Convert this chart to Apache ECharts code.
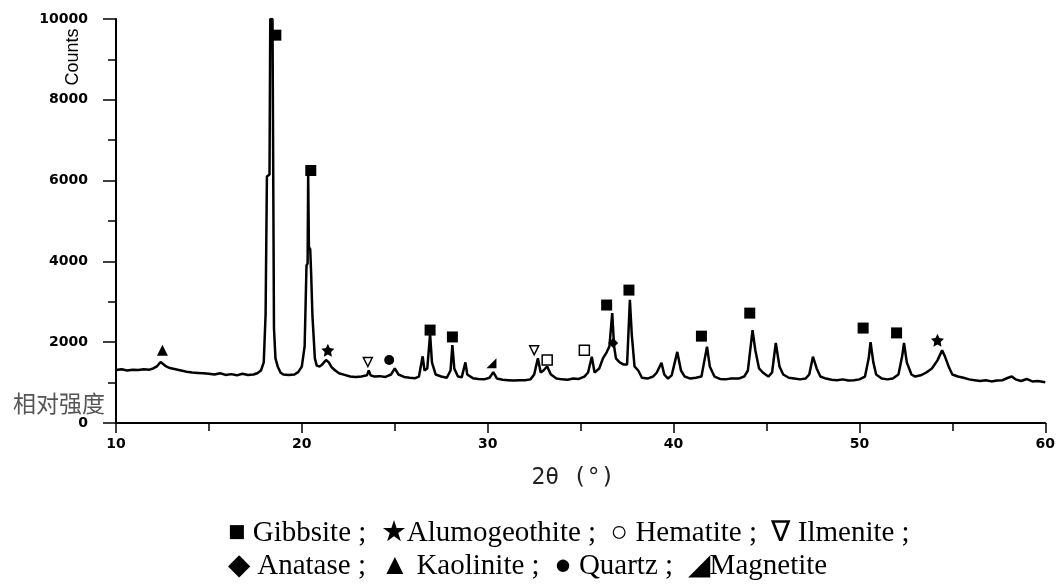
<!DOCTYPE html>
<html><head><meta charset="utf-8">
<script src="https://cdn.jsdelivr.net/npm/echarts@6/dist/echarts.min.js"></script>
<style>html,body{margin:0;padding:0;background:#fff}#c{width:1058px;height:586px}</style>
</head><body><div id="c"></div>
<script>
// 2θ positions (degrees)
const twoTheta = [10.0,10.3,10.6,10.9,11.2,11.5,11.8,12.0,12.2,12.4,12.5,12.7,12.9,13.2,13.5,13.8,14.1,14.4,14.7,15.0,15.3,15.6,15.9,16.2,16.5,16.8,17.1,17.4,17.6,17.8,17.95,18.05,18.1,18.12,18.26,18.3,18.42,18.5,18.58,18.7,18.85,19.0,19.3,19.6,19.8,20.0,20.15,20.25,20.31,20.34,20.38,20.45,20.5,20.57,20.62,20.7,20.8,20.95,21.1,21.3,21.45,21.6,21.8,22.0,22.3,22.6,22.9,23.2,23.5,23.6,23.7,23.9,24.2,24.5,24.8,25.0,25.2,25.5,25.8,26.1,26.3,26.5,26.6,26.75,26.9,27.0,27.2,27.5,27.8,28.0,28.1,28.2,28.4,28.6,28.8,28.9,29.2,29.5,29.8,30.1,30.3,30.5,30.8,31.1,31.4,31.7,32.0,32.3,32.5,32.7,32.85,33.0,33.2,33.4,33.7,34.0,34.3,34.6,34.9,35.2,35.4,35.6,35.75,36.0,36.2,36.4,36.55,36.7,36.8,36.9,37.1,37.3,37.5,37.65,37.75,37.9,38.1,38.3,38.6,38.9,39.1,39.35,39.5,39.7,39.9,40.2,40.4,40.6,40.9,41.2,41.5,41.8,41.95,42.2,42.5,42.8,43.1,43.5,43.8,44.0,44.25,44.4,44.6,44.8,45.1,45.3,45.5,45.7,45.9,46.2,46.5,46.8,47.1,47.3,47.5,47.7,47.9,48.2,48.5,48.8,49.1,49.4,49.7,50.0,50.3,50.5,50.6,50.75,50.9,51.2,51.5,51.8,52.1,52.3,52.4,52.55,52.8,53.0,53.3,53.6,53.9,54.2,54.45,54.6,54.8,55.0,55.3,55.6,55.9,56.2,56.5,56.8,57.1,57.4,57.7,58.0,58.2,58.4,58.7,59.0,59.3,59.6,60.0];
// counts
const counts = [1310,1330,1300,1320,1310,1330,1320,1350,1400,1510,1500,1400,1360,1330,1300,1270,1250,1240,1230,1220,1200,1230,1190,1210,1180,1220,1190,1200,1230,1300,1500,2700,2700,6100,6150,10000,10000,2350,1600,1400,1250,1200,1190,1200,1260,1400,1900,3900,3950,6150,4350,4300,3700,2650,2250,1600,1420,1400,1450,1560,1500,1380,1300,1230,1190,1150,1140,1150,1180,1300,1180,1150,1160,1140,1200,1350,1200,1140,1120,1110,1150,1650,1300,1350,2200,1500,1200,1150,1120,1300,1930,1350,1150,1130,1500,1200,1110,1090,1080,1120,1260,1100,1070,1060,1050,1060,1060,1080,1200,1600,1250,1300,1400,1200,1100,1080,1070,1100,1090,1150,1250,1640,1250,1350,1600,1750,1900,2720,1900,1600,1500,1450,1450,3050,2200,1400,1300,1120,1100,1150,1250,1490,1200,1100,1180,1760,1300,1150,1100,1120,1150,1890,1400,1150,1090,1080,1100,1100,1150,1300,2300,1800,1350,1250,1150,1250,1980,1400,1200,1120,1100,1080,1100,1200,1640,1350,1150,1100,1070,1060,1080,1050,1060,1080,1150,1600,2000,1500,1200,1100,1080,1100,1200,1650,1980,1500,1200,1150,1180,1250,1350,1550,1800,1650,1400,1200,1150,1120,1080,1060,1040,1060,1030,1050,1060,1120,1150,1080,1040,1090,1030,1040,1010];

// phase marker positions [2θ, counts]
const gibbsite = [[18.6,9600],[20.48,6250],[26.9,2300],[28.1,2130],[36.4,2920],[37.6,3290],[41.5,2150],[44.1,2720],[50.2,2350],[52.0,2230]];
const alumogeothite = [[21.4,1800],[54.2,2050]];
const hematite = [[33.2,1560],[35.2,1800]];
const ilmenite = [[23.55,1510],[32.5,1800]];
const anatase = [[36.75,1980]];
const kaolinite = [[12.5,1800]];
const quartz = [[24.7,1560]];
const magnetite = [[30.2,1480]];

const yTicks = [0,2000,4000,6000,8000,10000];
const xTicks = [10,20,30,40,50,60];

const legendLine1 = '■ Gibbsite ;  ★Alumogeothite ;  ○ Hematite ;  ∇ Ilmenite ;';
const legendLine2 = '◆ Anatase ;  ▲ Kaolinite ;  ● Quartz ;  ◢Magnetite';

const pattern = twoTheta.map((t,i)=>[t,counts[i]]);
const chart = echarts.init(document.getElementById('c'));
const tickFont = {color:'#000',fontFamily:'DejaVu Sans',fontWeight:'bold',fontSize:14};
function mk(name,data,symbol,size,opts){
  const base = {type:'scatter',name,data,symbol,symbolSize:size,silent:true,z:5,
    itemStyle:{color:'#000',opacity:1}};
  return Object.assign(base,opts||{});
}
chart.setOption({
  animation:false,
  backgroundColor:'#fff',
  grid:{left:116,right:12,top:19,bottom:163},
  xAxis:{type:'value',min:10,max:60,interval:10,
    axisLine:{lineStyle:{color:'#000',width:2}},
    axisTick:{show:true,length:10,lineStyle:{color:'#000',width:1.5}},
    minorTick:{show:true,splitNumber:2,length:8,lineStyle:{color:'#000',width:1.5}},
    splitLine:{show:false},
    axisLabel:Object.assign({margin:14,formatter:v=>xTicks.includes(v)?String(v):''},tickFont)},
  yAxis:{type:'value',min:0,max:10000,interval:2000,
    axisLine:{show:true,lineStyle:{color:'#000',width:2}},
    axisTick:{show:true,length:13,lineStyle:{color:'#000',width:1.5}},
    minorTick:{show:true,splitNumber:2,length:8,lineStyle:{color:'#000',width:1.5}},
    splitLine:{show:false},
    axisLabel:Object.assign({margin:28,formatter:v=>yTicks.includes(v)?String(v):''},tickFont)},
  series:[
    {type:'line',data:pattern,symbol:'none',silent:true,clip:true,
     lineStyle:{color:'#000',width:2.5},z:2},
    mk('Gibbsite',gibbsite,'rect',11),
    mk('Alumogeothite',alumogeothite,'path://M0,-10L2.9,-4L9.5,-3.1L4.7,1.5L5.9,8.1L0,5L-5.9,8.1L-4.7,1.5L-9.5,-3.1L-2.9,-4Z',13),
    mk('Hematite',hematite,'rect',10,{itemStyle:{color:'#fff',borderColor:'#000',borderWidth:1.5,opacity:1}}),
    mk('Ilmenite',ilmenite,'triangle',9,{symbolRotate:180,itemStyle:{color:'#fff',borderColor:'#000',borderWidth:1.5,opacity:1}}),
    mk('Anatase',anatase,'diamond',10),
    mk('Kaolinite',kaolinite,'triangle',11),
    mk('Quartz',quartz,'circle',10),
    mk('Magnetite',magnetite,'path://M10,0L10,10L0,10Z',10)
  ],
  graphic:[
    {type:'text',x:73,y:57,rotation:Math.PI/2,style:{text:'Counts',fontFamily:'Liberation Sans',fontSize:18,fill:'#000',align:'center',verticalAlign:'middle'}},
    {type:'text',x:59,y:403,style:{text:'相对强度',fontFamily:'Noto Sans CJK SC',fontSize:23,fill:'#555',align:'center',verticalAlign:'middle'}},
    {type:'text',x:573,y:478,style:{text:'2θ (°)',fontFamily:'DejaVu Sans Mono',fontSize:23,fill:'#222',align:'center',verticalAlign:'middle'}},
    {type:'text',x:228,y:533,style:{text:legendLine1,fontFamily:'Liberation Serif',fontSize:29,fill:'#000',align:'left',verticalAlign:'middle'}},
    {type:'text',x:228,y:566,style:{text:legendLine2,fontFamily:'Liberation Serif',fontSize:29,fill:'#000',align:'left',verticalAlign:'middle'}}
  ]
});
</script></body></html>
